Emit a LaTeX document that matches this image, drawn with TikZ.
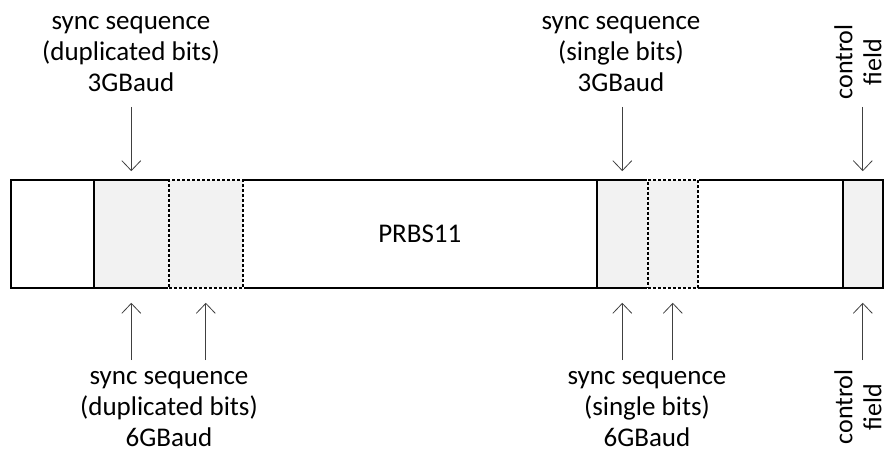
\documentclass[tikz,border=0pt]{standalone}
\usepackage{fontspec}
\setmainfont{Carlito}
\usetikzlibrary{
    arrows.meta
  , positioning
}

\definecolor{syncgray}{HTML}{F2F2F2}
\definecolor{pointergray}{HTML}{404040}

\tikzset{
  seg/.style={draw, line width=1.6pt, minimum height=108pt, inner sep=0pt, anchor=west},
  syncbox/.style={seg, fill=syncgray},
  dupbox/.style={seg, fill=syncgray, dash pattern=on 3pt off 2pt,
    preaction={draw=white, solid, line width=1.6pt}},
  lbl/.style={align=center, font=\fontsize{27}{31}\selectfont, inner sep=0pt},
  sidelbl/.style={lbl, rotate=90, font=\fontsize{26}{29}\selectfont},
  pointer/.style={-{Straight Barb[length=10pt, width=19pt]}, line width=0.8pt, draw=pointergray},
}

\begin{document}
\begin{tikzpicture}[x=1pt, y=-1pt]
  \useasboundingbox (0,0) rectangle (889,454);
  % Frame segments
  \node[seg, minimum width=83pt] (lead) at (10,234) {};
  \node[syncbox, minimum width=75pt] (dupsync) at (93,234) {};
  \node[seg, lbl, minimum width=354pt] (prbs) at (242,234) {PRBS11};
  \node[syncbox, minimum width=51pt] (sglsync) at (596,234) {};
  \node[seg, minimum width=145pt] (trail) at (697,234) {};
  \node[syncbox, minimum width=40pt] (ctrl) at (842,234) {};
  % 6GBaud halves (dashed)
  \node[dupbox, minimum width=74pt] (dupsynchi) at (168,234) {};
  \node[dupbox, minimum width=50pt] (sglsynchi) at (647,234) {};
  % Labels
  \node[lbl] (duptop) at (131,54) {sync sequence\\(duplicated bits)\\3GBaud};
  \node[lbl] (sgltop) at (621,54) {sync sequence\\(single bits)\\3GBaud};
  \node[sidelbl] (ctrltop) at (858,62) {control\\field};
  \node[lbl] (dupbot) at (169,409) {sync sequence\\(duplicated bits)\\6GBaud};
  \node[lbl] (sglbot) at (647,409) {sync sequence\\(single bits)\\6GBaud};
  \node[sidelbl] (ctrlbot) at (858,407) {control\\field};
  % Arrow tails
  \coordinate (topline) at (0,107);
  \coordinate (botline) at (0,360);
  % 3GBaud arrows
  \draw[pointer, shorten >=8pt] (dupsync.north |- topline) -- (dupsync.north);
  \draw[pointer, shorten >=8pt] (sglsync.north |- topline) -- (sglsync.north);
  \draw[pointer, shorten >=8pt] (ctrl.north |- topline) -- (ctrl.north);
  % 6GBaud arrows
  \draw[pointer, shorten >=14pt] (dupsync.south |- botline) -- (dupsync.south);
  \draw[pointer, shorten >=14pt] (dupsynchi.south |- botline) -- (dupsynchi.south);
  \draw[pointer, shorten >=14pt] (sglsync.south |- botline) -- (sglsync.south);
  \draw[pointer, shorten >=14pt] (sglsynchi.south |- botline) -- (sglsynchi.south);
  \draw[pointer, shorten >=14pt] (ctrl.south |- botline) -- (ctrl.south);
\end{tikzpicture}
\end{document}
